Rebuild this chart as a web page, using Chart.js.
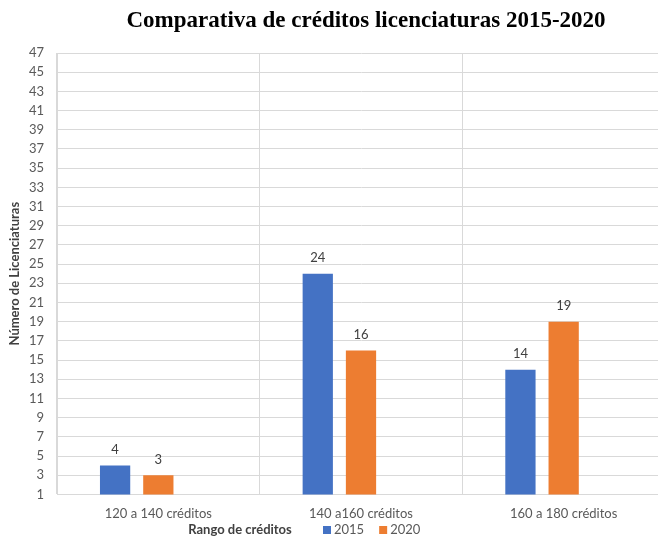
<!DOCTYPE html>
<html lang="es">
<head>
  <meta charset="UTF-8" />
  <title>Comparativa de créditos licenciaturas 2015-2020</title>
  <script src="https://cdn.jsdelivr.net/npm/chart.js"></script>
  <style>
    html, body { margin: 0; padding: 0; background: #fff; overflow: hidden; }
    #wrap { width: 735px; height: 539px; position: relative; }
  </style>
</head>
<body>
  <div id="wrap"><canvas id="chart"></canvas></div>

  <script>
    // Data
    const categories = ['120 a 140 créditos', '140 a160 créditos', '160 a 180 créditos'];
    const values2015 = [4, 24, 14];
    const values2020 = [3, 16, 19];
    const valuesEmpty = [null, null, null];   // empty third series (keeps bars left of centre)
    const yTicks = { min: 1, max: 47, step: 2 };

    const BLUE = '#4472c4';
    const ORANGE = '#ed7d31';
    const FONT = 'Lato, "Open Sans", sans-serif';
    const TITLE = 'Comparativa de créditos licenciaturas 2015-2020';

    // value labels above bars
    const valueLabels = {
      id: 'valueLabels',
      afterDatasetsDraw(chart) {
        const ctx = chart.ctx;
        ctx.save();
        ctx.font = '13px ' + FONT;
        ctx.fillStyle = '#404040';
        ctx.textAlign = 'center';
        ctx.textBaseline = 'bottom';
        chart.data.datasets.forEach((ds, i) => {
          if (ds.label === '') return;
          chart.getDatasetMeta(i).data.forEach((bar, j) => {
            if (ds.data[j] == null) return;
            ctx.fillText(ds.data[j], bar.x, bar.y - 9);
          });
        });
        ctx.restore();
      }
    };

    // title (centred on the full, wider chart) and the bottom row: x axis title + legend
    const texts = {
      id: 'texts',
      afterDraw(chart) {
        const ctx = chart.ctx;
        ctx.save();
        ctx.textBaseline = 'middle';
        ctx.textAlign = 'center';
        ctx.fillStyle = '#000';
        ctx.font = 'bold 23px "Liberation Serif", "Times New Roman", serif';
        ctx.fillText(TITLE, 366, 21);

        const y = 530;
        ctx.font = 'bold 13px ' + FONT;
        ctx.fillStyle = '#404040';
        ctx.fillText('Rango de créditos', 240, y);

        ctx.font = '13px ' + FONT;
        ctx.textAlign = 'left';
        let x = 323;
        chart.data.datasets.forEach(ds => {
          if (ds.label === '') return;
          ctx.fillStyle = ds.backgroundColor;
          ctx.fillRect(x, y - 4, 8, 8);
          ctx.fillStyle = '#595959';
          ctx.fillText(ds.label, x + 11, y);
          x += 11 + ctx.measureText(ds.label).width + 15;
        });
        ctx.restore();
      }
    };

    new Chart(document.getElementById('chart'), {
      type: 'bar',
      data: {
        labels: categories,
        datasets: [
          { label: '2015', data: values2015, backgroundColor: BLUE },
          { label: '2020', data: values2020, backgroundColor: ORANGE },
          { label: '', data: valuesEmpty, backgroundColor: 'rgba(0,0,0,0)' }
        ]
      },
      options: {
        responsive: true,
        maintainAspectRatio: false,
        animation: false,
        datasets: { bar: { barPercentage: 0.7, categoryPercentage: 0.64 } },
        layout: { padding: { left: 3, right: 70, top: 53, bottom: 5 } },
        plugins: {
          title: { display: false },
          legend: { display: false },
          tooltip: { enabled: false }
        },
        scales: {
          x: {
            grid: { color: '#d9d9d9', drawTicks: false, offset: true },
            border: { color: '#d9d9d9' },
            ticks: { color: '#595959', padding: 12, font: { family: FONT, size: 13 } }
          },
          y: {
            min: yTicks.min,
            max: yTicks.max,
            afterFit: s => { s.width = 54; },
            ticks: { stepSize: yTicks.step, autoSkip: false, color: '#595959', padding: 13, font: { family: FONT, size: 13 } },
            grid: { color: '#d9d9d9', drawTicks: false },
            border: { color: '#d9d9d9' },
            title: {
              display: true,
              text: 'Número de Licenciaturas',
              color: '#404040',
              font: { family: FONT, size: 13, weight: 'bold' },
              padding: 4
            }
          }
        }
      },
      plugins: [valueLabels, texts]
    });
  </script>
</body>
</html>
